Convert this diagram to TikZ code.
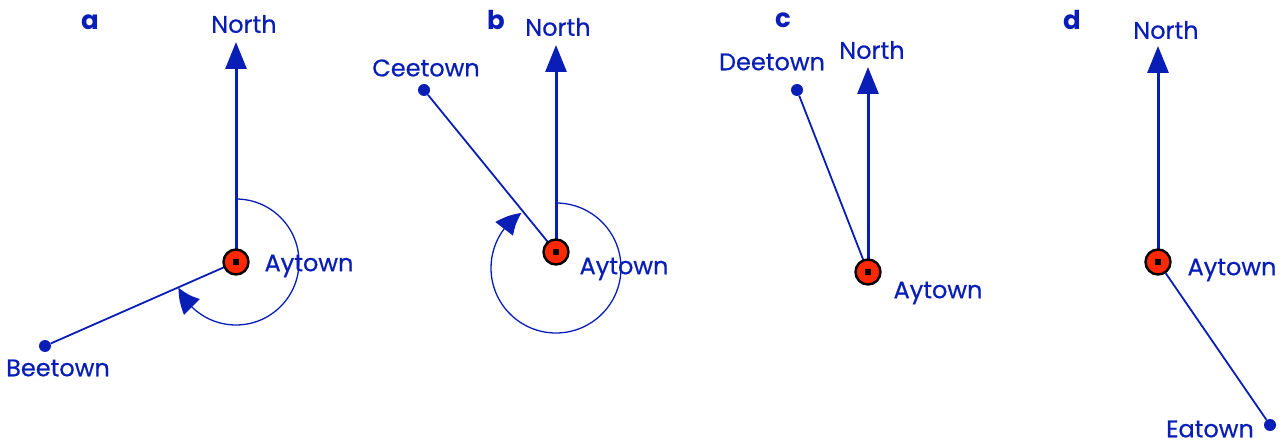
\documentclass[tikz,border=0pt]{standalone}
\usepackage{fontspec}
\setmainfont{Poppins}
\newfontfamily\labelfont[FakeBold=0.6]{Poppins}
\usetikzlibrary{arrows.meta,calc,bending}
\definecolor{cblue}{RGB}{8,30,182}
\definecolor{cred}{RGB}{255,40,0}
\tikzset{
  txt/.style={text=cblue,font=\labelfont\fontsize{24}{28}\selectfont,inner sep=0pt},
  panel/.style={text=cblue,font=\bfseries\fontsize{26}{30}\selectfont,inner sep=0pt},
  northarrow/.style={draw=cblue,line width=3pt,-{Triangle[length=27pt,width=21pt]}},
  townline/.style={draw=cblue,line width=1.8pt},
  bearing/.style={draw=cblue,line width=1.3pt,-{Triangle[length=24pt,width=22pt,bend]}},
  towndot/.style={circle,fill=cblue,inner sep=0pt,minimum size=12pt},
  marker/.style={circle,fill=cred,draw=black,line width=2.4pt,minimum size=25pt,inner sep=0pt,
    path picture={\fill[black] ($(path picture bounding box.center)+(-3pt,-3pt)$) rectangle ++(6pt,6pt);}},
}
\begin{document}
\begin{tikzpicture}[x=1pt,y=1pt]
\useasboundingbox (0,0) rectangle (1283,445);
% ---------- panel a
\coordinate (Aa) at (236,183);
\coordinate (Na) at (236,403);
\node[towndot] (Ba) at (45,99) {};
\draw[townline] (Aa) -- (Ba);
\draw[northarrow] (Aa) -- (Na);
\draw[bearing] ($(Aa)+(90:63)$) arc[start angle=90,end angle=-156,radius=63];
\node[marker] (ma) at (Aa) {};
\node[panel] (la) at (90,423) {a};
\node[txt] (nla) at (244,421) {North};
\node[txt] (aya) at (309,179) {Aytown};
\node[txt] (bla) at (58,77) {Beetown};
% ---------- panel b
\coordinate (Ab) at (556,193);
\coordinate (Nb) at (556,400);
\coordinate (Cb) at (556,177);
\node[towndot] (Cc) at (424,355) {};
\draw[townline] (Ab) -- (Cc);
\draw[northarrow] (Ab) -- (Nb);
\draw[bearing] ($(Cb)+(90:65)$) arc[start angle=90,end angle=-238,radius=65];
\node[marker] (mb) at (Ab) {};
\node[panel] (lb) at (496,425) {b};
\node[txt] (nlb) at (558,418) {North};
\node[txt] (ayb) at (624,176) {Aytown};
\node[txt] (clb) at (426,377) {Ceetown};
% ---------- panel c
\coordinate (Ac) at (868,173);
\coordinate (Nc) at (868,378);
\node[towndot] (Dc) at (797,355) {};
\draw[townline] (Ac) -- (Dc);
\draw[northarrow] (Ac) -- (Nc);
\node[marker] (mc) at (Ac) {};
\node[panel] (lc) at (783,425) {c};
\node[txt] (nlc) at (872,395) {North};
\node[txt] (ayc) at (938,152) {Aytown};
\node[txt] (dlc) at (772,383) {Deetown};
% ---------- panel d
\coordinate (Ad) at (1158,183);
\coordinate (Nd) at (1158,399);
\node[towndot] (Ed) at (1270,20) {};
\draw[townline] (Ad) -- (Ed);
\draw[northarrow] (Ad) -- (Nd);
\node[marker] (md) at (Ad) {};
\node[panel] (ld) at (1072,425) {d};
\node[txt] (nld) at (1166,415) {North};
\node[txt] (ayd) at (1232,175) {Aytown};
\node[txt] (eld) at (1210,16) {Eatown};
\end{tikzpicture}
\end{document}
